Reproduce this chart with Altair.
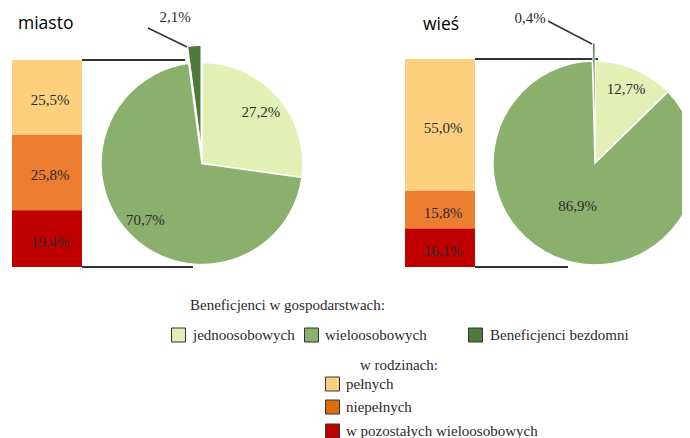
import altair as alt
import pandas as pd

# ---------------- data ----------------
pie_categories = ["jednoosobowych", "wieloosobowych", "Beneficjenci bezdomni"]
miasto_pie = [27.2, 70.7, 2.1]
wies_pie = [12.7, 86.9, 0.4]

bar_categories = ["pełnych", "niepełnych", "w pozostałych wieloosobowych"]
miasto_bar = [25.5, 25.8, 19.4]
wies_bar = [55.0, 15.8, 16.1]

panel_titles = ["miasto", "wieś"]
legend_title_1 = "Beneficjenci w gospodarstwach:"
legend_title_2 = "w rodzinach:"

# ---------------- styles ----------------
pie_colors = ["#E2EFB5", "#8BB06D", "#4F7A3B"]
bar_colors = ["#FCD07F", "#ED7D31", "#C00000"]
legend_bar_colors = ["#FCD07F", "#E36C0A", "#C00000"]
SERIF = "Liberation Serif"
SANS = "Open Sans"
TXT = "#2b2b2b"
LINE = "#333333"
BEZ = "datum.cat == 'Beneficjenci bezdomni'"
FS = 15


def fmt(v):
    return f"{v:.1f}".replace(".", ",") + "%"


def one(text):
    return alt.Chart(pd.DataFrame({"t": [text]}))


def bar_panel(vals, x0, x1, ytop, ybot, xlab, top_end, bot_end):
    total = round(sum(vals), 1)
    df = pd.DataFrame({"cat": bar_categories, "value": vals, "o": [0, 1, 2],
                       "label": [fmt(v) for v in vals]})
    base = alt.Chart(df).transform_stack(
        stack="value", groupby=[], as_=["v0", "v1"],
        sort=[alt.SortField("o", order="ascending")]
    ).transform_calculate(mid="(datum.v0 + datum.v1) / 2")
    ysc = alt.Scale(domain=[0, total], range=[ytop, ybot], nice=False, zero=False)
    bars = base.mark_bar().encode(
        x=alt.value(x0), x2=alt.value(x1),
        y=alt.Y("v0:Q", scale=ysc, axis=None), y2="v1:Q",
        color=alt.Color("cat:N", scale=alt.Scale(domain=bar_categories, range=bar_colors), legend=None),
    )
    labels = base.mark_text(font=SERIF, fontSize=FS, color=TXT, dy=3).encode(
        x=alt.value(xlab), y=alt.Y("mid:Q", scale=ysc, axis=None), text="label:N"
    )
    top = one("").mark_rule(color=LINE, strokeWidth=2).encode(
        x=alt.value(x1), x2=alt.value(top_end), y=alt.Y(datum=0, scale=ysc, axis=None)
    )
    bot = one("").mark_rule(color=LINE, strokeWidth=2).encode(
        x=alt.value(x1), x2=alt.value(bot_end), y=alt.Y(datum=total, scale=ysc, axis=None)
    )
    return alt.layer(top, bot, bars, labels)


def pie_panel(vals, cx, cy, r, dx, dy, lab_r, big_r):
    df = pd.DataFrame({"cat": pie_categories, "value": vals, "o": [0, 1, 2],
                       "label": [fmt(v) for v in vals]})
    base = alt.Chart(df)
    theta = alt.Theta("value:Q", stack=True)
    color = alt.Color("cat:N", scale=alt.Scale(domain=pie_categories, range=pie_colors), legend=None)
    order = alt.Order("o:Q")
    arcs = base.mark_arc(outerRadius=r, stroke="white", strokeWidth=1.5).encode(
        theta=theta, color=color, order=order,
        x=alt.value(cx), y=alt.value(cy),
        opacity=alt.condition(BEZ, alt.value(0), alt.value(1)),
    )
    expl = base.mark_arc(outerRadius=r, stroke="white", strokeWidth=1).encode(
        theta=theta, color=color, order=order,
        x=alt.value(cx + dx), y=alt.value(cy + dy),
        opacity=alt.condition(BEZ, alt.value(1), alt.value(0)),
    )
    lab_small = base.mark_text(font=SERIF, fontSize=FS, color=TXT, radius=lab_r).encode(
        theta=theta, order=order, text="label:N",
        x=alt.value(cx), y=alt.value(cy),
        opacity=alt.condition("datum.cat == 'jednoosobowych'", alt.value(1), alt.value(0)),
    )
    lab_big = base.mark_text(font=SERIF, fontSize=FS, color=TXT, radius=big_r).encode(
        theta=theta, order=order, text="label:N",
        x=alt.value(cx), y=alt.value(cy),
        opacity=alt.condition("datum.cat == 'wieloosobowych'", alt.value(1), alt.value(0)),
    )
    return alt.layer(arcs, expl, lab_small, lab_big)


def text_at(s, x, y, size=FS, font=SERIF, color=TXT, align="left"):
    return one(s).mark_text(font=font, fontSize=size, color=color, align=align,
                            baseline="middle").encode(
        x=alt.value(x), y=alt.value(y), text="t:N")


def rule_at(x, y, x2, y2, w=1.5):
    return one("").mark_rule(color=LINE, strokeWidth=w).encode(
        x=alt.value(x), y=alt.value(y), x2=alt.value(x2), y2=alt.value(y2))


def swatch(x, y, color):
    return one("").mark_square(size=196, color=color, opacity=1, stroke="#333333",
                               strokeWidth=1, filled=True).encode(
        x=alt.value(x), y=alt.value(y))


layers = [
    bar_panel(miasto_bar, 4, 74, 52, 259, 42, 177, 185),
    pie_panel(miasto_pie, 194, 155.5, 101, -1, -17, 78, 80),
    bar_panel(wies_bar, 397, 467, 51, 259, 435, 590, 560),
    pie_panel(wies_pie, 587, 155, 102, 0, -18, 80, 46),
    text_at(panel_titles[0], 10, 16, size=17.5, font=SANS, color="#000000"),
    text_at(panel_titles[1], 415, 17, size=17.5, font=SANS, color="#000000"),
    rule_at(140, 20, 179, 39),
    text_at(fmt(miasto_pie[2]), 167, 9, align="center"),
    rule_at(540, 13, 584, 36),
    text_at(fmt(wies_pie[2]), 522, 10, align="center"),
    # legend
    text_at(legend_title_1, 182, 297),
    swatch(170.5, 327, pie_colors[0]),
    text_at(pie_categories[0], 185, 327),
    swatch(303.5, 327, pie_colors[1]),
    text_at(pie_categories[1], 317, 327),
    swatch(467.5, 327, pie_colors[2]),
    text_at(pie_categories[2], 482, 327),
    text_at(legend_title_2, 352, 357),
]
for i, (c, col) in enumerate(zip(bar_categories, legend_bar_colors)):
    yy = [376, 399, 423][i]
    layers.append(swatch(324.5, yy, col))
    layers.append(text_at(c, 338, yy))

chart = alt.layer(*layers).resolve_scale(
    y="independent", theta="independent", color="independent"
).properties(
    width=674, height=430, autosize=alt.AutoSizeParams(type="none"), padding=0
).configure_view(stroke=None)

chart.save("out.html", embed_options={"renderer": "svg", "actions": False})
